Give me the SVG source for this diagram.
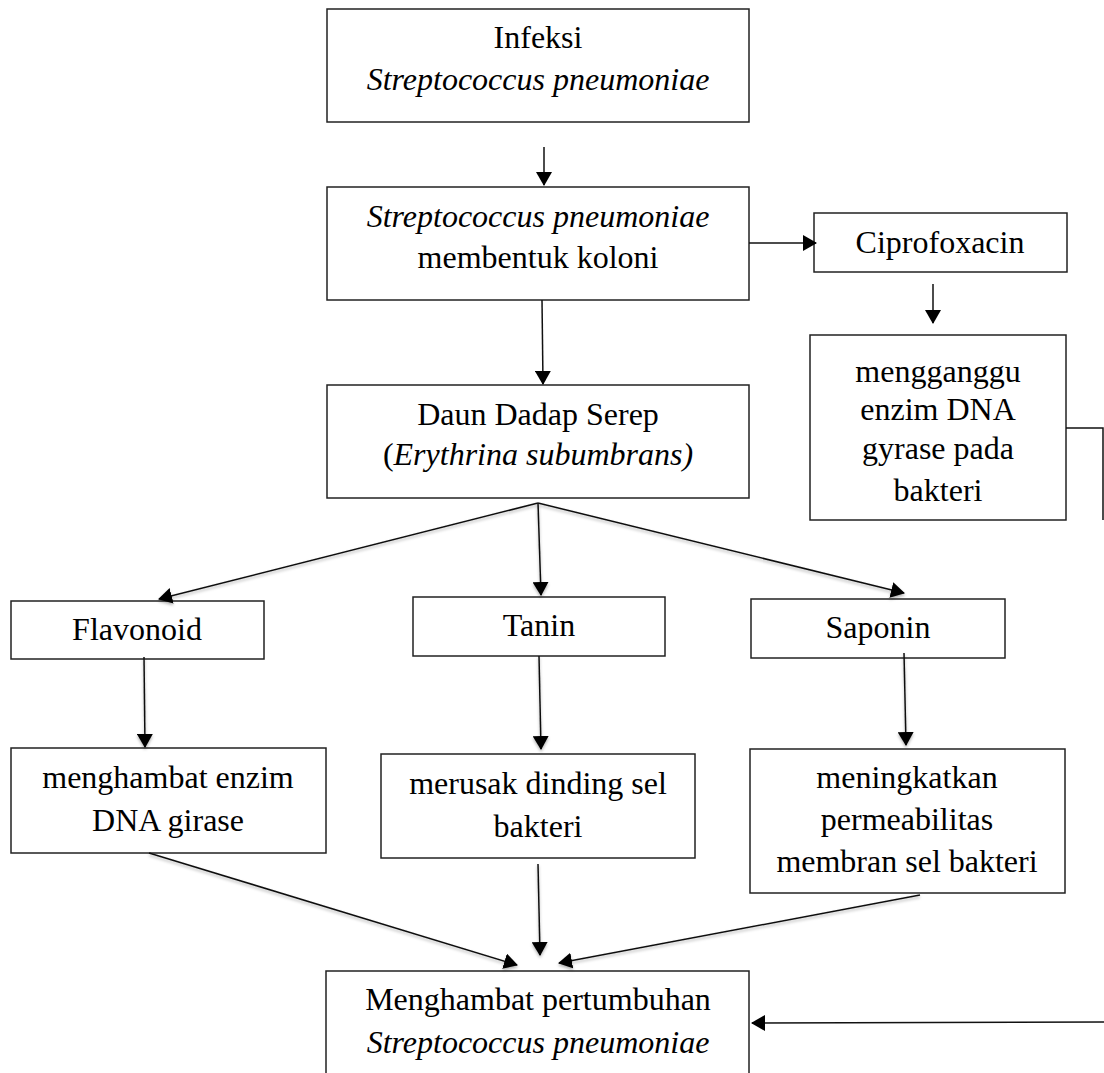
<svg xmlns="http://www.w3.org/2000/svg" width="1104" height="1073" viewBox="0 0 1104 1073">
<style>
.box{fill:#fff;stroke:#222;stroke-width:1.5}
.t{font-family:"Liberation Serif","Times New Roman",serif;font-size:32px;fill:#000;text-anchor:middle}
.i{font-style:italic}
.c{fill:none;stroke:#111;stroke-width:1.5}
.a{marker-end:url(#ah)}
.sh{filter:url(#ds)}
</style>
<defs>
<marker id="ah" markerWidth="16" markerHeight="16" refX="13" refY="8" orient="auto" markerUnits="userSpaceOnUse">
<path d="M0,0 L14,8 L0,16 Z" fill="#000"/>
</marker>
<filter id="ds" x="-10%" y="-10%" width="120%" height="120%">
<feDropShadow dx="0" dy="2" stdDeviation="1.5" flood-color="#000" flood-opacity="0.3"/>
</filter>
</defs>
<g id="n-infeksi">
<rect class="box" x="327" y="9" width="422" height="113"/>
<text class="t" x="538" y="48">Infeksi</text>
<text class="t i" x="538" y="90">Streptococcus pneumoniae</text>
</g>
<g id="n-koloni">
<rect class="box" x="327" y="187" width="422" height="113"/>
<text class="t i" x="538" y="227">Streptococcus pneumoniae</text>
<text class="t" x="538" y="268">membentuk koloni</text>
</g>
<g id="n-cipro">
<rect class="box" x="814" y="213" width="253" height="59"/>
<text class="t" x="940" y="253">Ciprofoxacin</text>
</g>
<g id="n-mengganggu">
<rect class="box" x="810" y="335" width="256" height="185"/>
<text class="t" x="938" y="382">mengganggu</text>
<text class="t" x="938" y="420">enzim DNA</text>
<text class="t" x="938" y="459">gyrase pada</text>
<text class="t" x="938" y="501">bakteri</text>
</g>
<g id="n-daun">
<rect class="box" x="327" y="385" width="422" height="113"/>
<text class="t" x="538" y="425">Daun Dadap Serep</text>
<text class="t" x="538" y="465">(<tspan class="i">Erythrina subumbrans)</tspan></text>
</g>
<g id="n-flavonoid">
<rect class="box" x="11" y="601" width="253" height="58"/>
<text class="t" x="137" y="640">Flavonoid</text>
</g>
<g id="n-tanin">
<rect class="box" x="413" y="597" width="252" height="59"/>
<text class="t" x="539" y="636">Tanin</text>
</g>
<g id="n-saponin">
<rect class="box" x="751" y="599" width="254" height="59"/>
<text class="t" x="878" y="638">Saponin</text>
</g>
<g id="n-menghambat-enzim">
<rect class="box" x="11" y="748" width="315" height="105"/>
<text class="t" x="168" y="788">menghambat enzim</text>
<text class="t" x="168" y="831">DNA girase</text>
</g>
<g id="n-merusak">
<rect class="box" x="381" y="754" width="314" height="104"/>
<text class="t" x="538" y="794">merusak dinding sel</text>
<text class="t" x="538" y="837">bakteri</text>
</g>
<g id="n-meningkatkan">
<rect class="box" x="750" y="749" width="315" height="144"/>
<text class="t" x="907" y="788">meningkatkan</text>
<text class="t" x="907" y="830">permeabilitas</text>
<text class="t" x="907" y="872">membran sel bakteri</text>
</g>
<g id="n-hasil">
<rect class="box" x="326" y="971" width="423" height="120"/>
<text class="t" x="538" y="1010">Menghambat pertumbuhan</text>
<text class="t i" x="538" y="1053">Streptococcus pneumoniae</text>
</g>
<g id="connectors">
<line class="c a" x1="544" y1="147" x2="544" y2="185"/>
<line class="c a" x1="542" y1="300" x2="543" y2="384"/>
<line class="c a" x1="749" y1="243" x2="816" y2="243"/>
<line class="c a" x1="933" y1="284" x2="933" y2="323"/>
<polyline class="c" points="1066,428 1103,428 1103,520"/>
<g class="sh">
<line class="c a" x1="538" y1="503" x2="159" y2="599"/>
<line class="c a" x1="538" y1="503" x2="541" y2="595"/>
<line class="c a" x1="538" y1="503" x2="904" y2="593"/>
<line class="c a" x1="144" y1="657" x2="145" y2="747"/>
<line class="c a" x1="539" y1="656" x2="541" y2="749"/>
<line class="c a" x1="904" y1="653" x2="906" y2="745"/>
<line class="c a" x1="149" y1="853" x2="517" y2="965"/>
<line class="c a" x1="538" y1="864" x2="540" y2="955"/>
<line class="c a" x1="920" y1="895" x2="559" y2="963"/>
</g>
<line class="c a" x1="1104" y1="1022" x2="752" y2="1023"/>
</g>
</svg>
